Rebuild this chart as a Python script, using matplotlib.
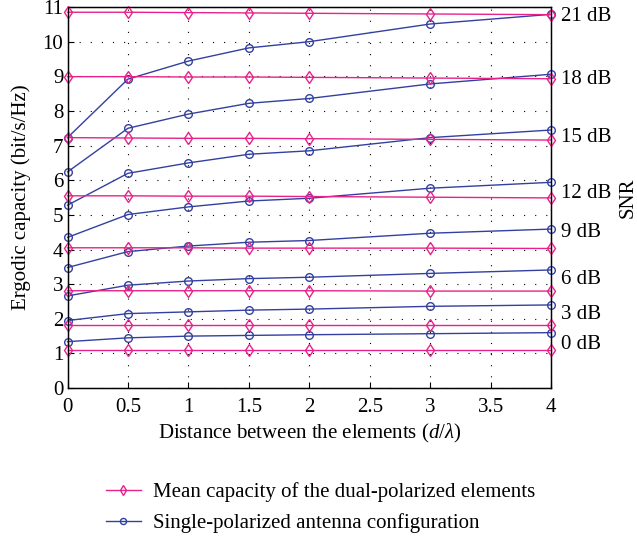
import matplotlib
matplotlib.use("Agg")
import matplotlib.pyplot as plt

# Distance between elements (d/lambda)
distance = [0, 0.5, 1, 1.5, 2, 3, 4]

snr_labels = ["0 dB", "3 dB", "6 dB", "9 dB", "12 dB", "15 dB", "18 dB", "21 dB"]

# mean capacity of the dual-polarized elements, one list per SNR
dual_0db = [1.09, 1.09, 1.09, 1.09, 1.09, 1.09, 1.09]
dual_3db = [1.81, 1.81, 1.81, 1.81, 1.81, 1.81, 1.81]
dual_6db = [2.81, 2.81, 2.81, 2.81, 2.81, 2.80, 2.80]
dual_9db = [4.05, 4.05, 4.05, 4.04, 4.04, 4.04, 4.03]
dual_12db = [5.55, 5.55, 5.54, 5.54, 5.53, 5.51, 5.49]
dual_15db = [7.23, 7.22, 7.21, 7.21, 7.20, 7.18, 7.16]
dual_18db = [8.99, 8.99, 8.98, 8.98, 8.97, 8.95, 8.93]
dual_21db = [10.85, 10.85, 10.84, 10.83, 10.82, 10.80, 10.78]

# single-polarized antenna configuration
single_0db = [1.34, 1.45, 1.50, 1.52, 1.54, 1.57, 1.60]
single_3db = [1.95, 2.15, 2.20, 2.25, 2.28, 2.36, 2.40]
single_6db = [2.66, 2.97, 3.09, 3.16, 3.20, 3.31, 3.41]
single_9db = [3.48, 3.94, 4.10, 4.21, 4.26, 4.47, 4.59]
single_12db = [4.35, 5.01, 5.23, 5.40, 5.48, 5.77, 5.94]
single_15db = [5.28, 6.20, 6.50, 6.75, 6.85, 7.23, 7.45]
single_18db = [6.24, 7.50, 7.91, 8.22, 8.36, 8.78, 9.06]
single_21db = [7.23, 8.92, 9.44, 9.82, 10.00, 10.51, 10.79]

# where the SNR labels sit on the right hand side
snr_label_y = [1.34, 2.20, 3.21, 4.56, 5.70, 7.30, 8.97, 10.80]

dual = [dual_0db, dual_3db, dual_6db, dual_9db, dual_12db, dual_15db, dual_18db, dual_21db]
single = [single_0db, single_3db, single_6db, single_9db, single_12db, single_15db, single_18db, single_21db]

plt.rcParams['font.family'] = ['Liberation Serif', 'DejaVu Serif']
plt.rcParams['mathtext.fontset'] = 'custom'
plt.rcParams['mathtext.rm'] = 'Liberation Serif'
plt.rcParams['mathtext.it'] = 'Liberation Serif:italic'
fs = 15
plt.rcParams['font.size'] = fs

pink = '#e8228a'
blue = '#3340a0'

fig = plt.figure(figsize=(6.37, 5.42), dpi=100)
ax = fig.add_axes([0.106, 0.284, 0.759, 0.703])

for i in range(len(dual)):
    ax.plot(distance, single[i], color=blue, lw=1.0, marker='o', ms=5.5,
            mfc='none', mec=blue, mew=1.0, clip_on=False, zorder=3,
            label='Single-polarized antenna configuration' if i == 0 else None)
    ax.plot(distance, dual[i], color=pink, lw=1.0, marker='d', ms=6.5,
            mfc='none', mec=pink, mew=1.0, clip_on=False, zorder=4,
            label='Mean capacity of the dual-polarized elements' if i == 0 else None)

ax.set_xlim(0, 4)
ax.set_ylim(0, 11)
ax.set_xticks([0, 0.5, 1, 1.5, 2, 2.5, 3, 3.5, 4])
ax.set_xticklabels(['0', '0.5', '1', '1.5', '2', '2.5', '3', '3.5', '4'])
ax.set_yticks(range(0, 12))
ax.tick_params(direction='in', length=4, labelsize=fs)
ax.tick_params(axis='x', pad=7)
ax.tick_params(axis='y', pad=3)
ax.grid(True, color='black', linestyle=(0, (1, 9)), linewidth=0.8)
ax.set_xlabel('Distance between the elements ($d/\\lambda$)', fontsize=fs, labelpad=4)
ax.set_ylabel('Ergodic capacity (bit/s/Hz)', fontsize=fs, labelpad=8)
for s in ax.spines.values():
    s.set_linewidth(1.0)

ax2 = ax.twinx()
ax2.set_ylim(0, 11)
ax2.set_yticks(snr_label_y)
ax2.set_yticklabels(snr_labels)
ax2.tick_params(length=0, pad=7, labelsize=fs)
ax2.set_ylabel('SNR', fontsize=fs, labelpad=5)

handles, labels = ax.get_legend_handles_labels()
order = [1, 0]
fig.legend([handles[k] for k in order], [labels[k] for k in order],
           loc='upper left', bbox_to_anchor=(0.150, 0.130), frameon=False,
           handlelength=1.68, handletextpad=0.58, labelspacing=0.55,
           borderpad=0, fontsize=fs, markerscale=0.8)

fig.savefig('out.png', dpi=100)
